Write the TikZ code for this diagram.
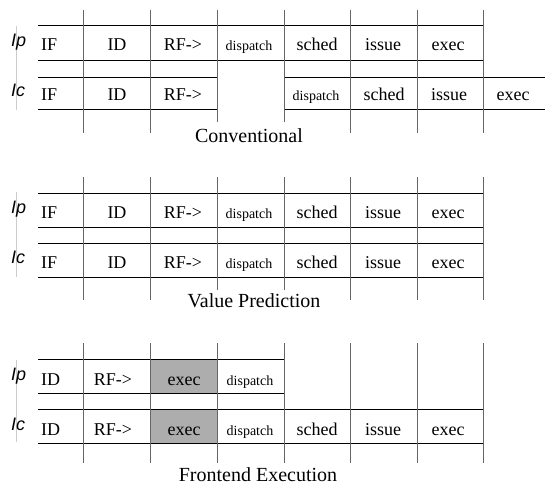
\documentclass[tikz,border=0pt]{standalone}
\usepackage{fontspec}
\setmainfont{Liberation Serif}
\setsansfont{Liberation Sans}
\begin{document}
\begin{tikzpicture}[x=1pt,y=-1pt,
  hl/.style={draw=black,line width=1pt},
  vl/.style={draw=black!60,line width=1pt},
  faint/.style={draw=black!20,line width=0.6pt},
  shadecell/.style={fill=black!32},
  txt/.style={font=\fontsize{18}{20}\selectfont,anchor=base,inner sep=0pt},
  txtw/.style={txt,anchor=base west},
  sm/.style={font=\fontsize{14}{16}\selectfont,anchor=base,inner sep=0pt},
  lbl/.style={font=\sffamily\itshape\fontsize{18}{20}\selectfont,anchor=base west,inner sep=0pt},
  captxt/.style={font=\fontsize{20}{22}\selectfont,anchor=base,inner sep=0pt}]
\useasboundingbox (0,0) rectangle (545,487);

% ================= Conventional =================
\draw[faint] (16,26) -- (16,110);
\draw[hl] (38,26) -- (483,26);
\draw[hl] (38,60) -- (483,60);
\draw[hl] (38,77) -- (217,77);
\draw[hl] (38,109) -- (217,109);
\draw[hl] (284,77) -- (545,77);
\draw[hl] (284,109) -- (545,109);
\draw[vl] (83.5,10) -- (83.5,133);
\draw[vl] (150.5,10) -- (150.5,133);
\draw[vl] (217,10) -- (217,122);
\draw[vl] (284,10) -- (284,122);
\draw[vl] (350.5,10) -- (350.5,133);
\draw[vl] (417,10) -- (417,133);
\draw[vl] (483,10) -- (483,133);

\node[lbl] (cip) at (11,46) {Ip};
\node[lbl] (cic) at (11,96) {Ic};
\node[txtw] (cpif) at (41,51) {IF};
\node[txt] (cpid) at (117,51) {ID};
\node[txt] (cprf) at (183,51) {RF->};
\node[sm] (cpdi) at (249,51) {dispatch};
\node[txt] (cpsc) at (317,51) {sched};
\node[txt] (cpis) at (383,51) {issue};
\node[txt] (cpex) at (448,51) {exec};
\node[txtw] (ccif) at (41,100) {IF};
\node[txt] (ccid) at (117,100) {ID};
\node[txt] (ccrf) at (183,100) {RF->};
\node[sm] (ccdi) at (316,100) {dispatch};
\node[txt] (ccsc) at (384,100) {sched};
\node[txt] (ccis) at (449,100) {issue};
\node[txt] (ccex) at (513,100) {exec};
\node[captxt] (ccap) at (249,142) {Conventional};

% ================= Value Prediction =================
\draw[faint] (16,192) -- (16,277);
\draw[hl] (38,193) -- (483,193);
\draw[hl] (38,227) -- (483,227);
\draw[hl] (38,243) -- (483,243);
\draw[hl] (38,277) -- (483,277);
\draw[vl] (83.5,177) -- (83.5,300);
\draw[vl] (150.5,177) -- (150.5,300);
\draw[vl] (217,177) -- (217,290);
\draw[vl] (284,177) -- (284,290);
\draw[vl] (350.5,177) -- (350.5,300);
\draw[vl] (417,177) -- (417,300);
\draw[vl] (483,177) -- (483,300);

\node[lbl] (vip) at (11,213) {Ip};
\node[lbl] (vic) at (11,263) {Ic};
\node[txtw] (vpif) at (41,218) {IF};
\node[txt] (vpid) at (117,218) {ID};
\node[txt] (vprf) at (183,218) {RF->};
\node[sm] (vpdi) at (249,218) {dispatch};
\node[txt] (vpsc) at (317,218) {sched};
\node[txt] (vpis) at (383,218) {issue};
\node[txt] (vpex) at (448,218) {exec};
\node[txtw] (vcif) at (41,268) {IF};
\node[txt] (vcid) at (117,268) {ID};
\node[txt] (vcrf) at (183,268) {RF->};
\node[sm] (vcdi) at (249,268) {dispatch};
\node[txt] (vcsc) at (317,268) {sched};
\node[txt] (vcis) at (383,268) {issue};
\node[txt] (vcex) at (448,268) {exec};
\node[captxt] (vcap) at (254,307) {Value Prediction};

% ================= Frontend Execution =================
\fill[shadecell] (150.5,359) rectangle (217,393);
\fill[shadecell] (150.5,409) rectangle (217,443);
\draw[faint] (16,360) -- (16,442);
\draw[hl] (38,359) -- (284,359);
\draw[hl] (38,393) -- (284,393);
\draw[hl] (38,409) -- (483,409);
\draw[hl] (38,443) -- (483,443);
\draw[vl] (83.5,343) -- (83.5,463);
\draw[vl] (150.5,343) -- (150.5,463);
\draw[vl] (217,343) -- (217,463);
\draw[vl] (284,343) -- (284,463);
\draw[vl] (350.5,343) -- (350.5,463);
\draw[vl] (417,343) -- (417,463);
\draw[vl] (483,343) -- (483,463);

\node[lbl] (fip) at (11,380) {Ip};
\node[lbl] (fic) at (11,430) {Ic};
\node[txtw] (fpid) at (41,385) {ID};
\node[txt] (fprf) at (113,385) {RF->};
\node[txt] (fpex) at (184,385) {exec};
\node[sm] (fpdi) at (250,385) {dispatch};
\node[txtw] (fcid) at (41,435) {ID};
\node[txt] (fcrf) at (113,435) {RF->};
\node[txt] (fcex) at (184,435) {exec};
\node[sm] (fcdi) at (250,435) {dispatch};
\node[txt] (fcsc) at (317,435) {sched};
\node[txt] (fcis) at (383,435) {issue};
\node[txt] (fcex2) at (448,435) {exec};
\node[captxt] (fcap) at (258,481) {Frontend Execution};
\end{tikzpicture}
\end{document}
